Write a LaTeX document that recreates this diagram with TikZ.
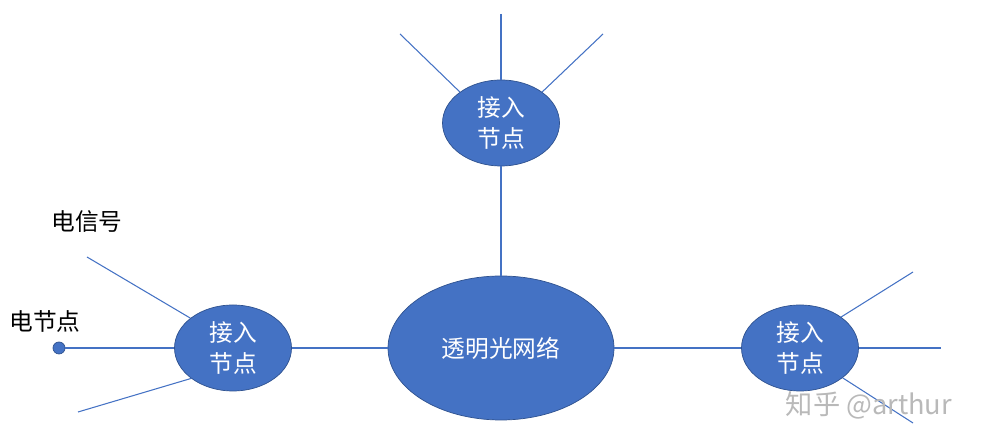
\documentclass[tikz,border=0pt]{standalone}
\usepackage{fontspec}
\setmainfont{Noto Sans CJK SC}
\usepackage{tikz}
\usetikzlibrary{shapes.geometric}
\definecolor{officeblue}{HTML}{4472C4}
\definecolor{edgeblue}{HTML}{2F528F}

\begin{document}
\begin{tikzpicture}[
  hub/.style={draw=edgeblue, fill=officeblue, ellipse, text=white, align=center, inner sep=0pt, font=\fontsize{13.5}{17.6}\selectfont},
  small/.style={hub, minimum width=2.34cm, minimum height=1.72cm},
  link/.style={draw=officeblue, line width=0.6pt},
  lbl/.style={font=\fontsize{13.5}{16}\selectfont}]
\useasboundingbox (0,0) rectangle (19.72,8.9);

\node[hub, minimum width=4.52cm, minimum height=2.88cm] (c) at (10.02,1.94) {透明光网络};
\node[small] (t) at (10.02,6.44) {接入\\节点};
\node[small] (l) at (4.66,1.94) {接入\\节点};
\node[small] (r) at (16.00,1.94) {接入\\节点};

\node[draw=edgeblue, fill=officeblue, circle, inner sep=0pt, minimum size=0.24cm] (e) at (1.18,1.94) {};
\node[lbl] (sig) at (1.74,4.46) {电信号};
\node[lbl] (en) at (0.90,2.48) {电节点};

\coordinate (t1) at (8.00,8.22);
\coordinate (t2) at (10.02,8.62);
\coordinate (t3) at (12.06,8.22);
\coordinate (l1) at (1.74,3.76);
\coordinate (l2) at (1.56,0.66);
\coordinate (r1) at (18.26,3.46);
\coordinate (r2) at (18.82,1.94);
\coordinate (r3) at (18.26,0.44);

\path[link] (t) -- (c);
\path[link] (l) -- (c);
\path[link] (c) -- (r);
\path[link] (e) -- (l);

\path[link] (t1) -- (t.143);
\path[link] (t2) -- (t);
\path[link] (t3) -- (t.37);
\path[link] (l1) -- (l.145);
\path[link] (l2) -- (l.216);
\path[link] (r.37) -- (r1);
\path[link] (r) -- (r2);
\path[link] (r.-35) -- (r3);

\node[text=gray!55, font=\fontsize{15.5}{17}\selectfont] (wm) at (17.38,0.80) {知乎 @arthur};
\end{tikzpicture}
\end{document}
